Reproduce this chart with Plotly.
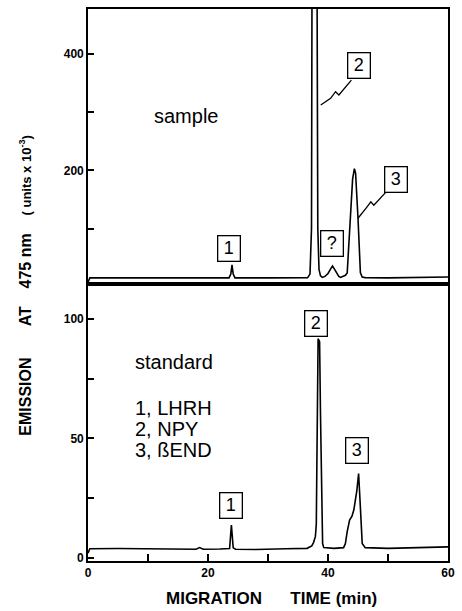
import plotly.graph_objects as go

# ---------------- data ----------------
std_time = [0, 0.3, 5, 10, 15, 18.0, 18.6, 19.2, 22, 23.6, 23.9, 24.2, 24.6, 28, 33, 36.5,
            37.3, 37.6, 37.9, 38.05, 38.35, 38.6, 38.75, 38.9, 39.1, 39.3, 41, 42.6, 42.9,
            43.2, 43.6, 44.0, 44.3, 44.8, 45.1, 45.4, 45.7, 46.2, 50, 55, 60]
std_signal = [2.0, 3.8, 3.9, 3.8, 3.6, 3.6, 4.3, 3.6, 3.7, 3.9, 13.7, 4.2, 3.6, 3.5, 3.8, 4.0,
              5.0, 6.5, 9.0, 14, 91.7, 90.5, 60, 30, 6, 4.3, 4.0, 4.3, 6,
              11, 15.8, 17.5, 20, 28, 35.3, 21, 6, 4.3, 4.0, 4.3, 4.6]

smp_time = [0, 0.3, 5, 10, 15, 20, 23.5, 23.8, 24.0, 24.2, 24.5, 30, 36.6, 37.0, 37.25,
            37.35, 38.15, 38.3, 38.5, 38.75, 39.06, 39.5, 40.0, 40.4, 40.75, 41.1, 41.5,
            41.8, 42.1, 42.5, 42.9, 43.2, 43.7, 44.1, 44.4, 44.6, 45.0, 45.4, 45.7, 46.2,
            50, 55, 60]
smp_signal = [8, 15.5, 15.5, 15.5, 15.5, 15.5, 15.5, 22, 38, 22, 15.5, 15.5, 16, 22, 100,
              600, 600, 100, 30, 19, 16.3, 18, 23, 30, 36, 30, 22,
              18, 16.3, 18, 20, 24, 118, 185, 203, 195, 118, 24, 17, 16,
              15.5, 16, 17]

x_ticks = [0, 20, 40, 60]
x_minor = [10, 30, 50]
std_ticks = [0, 50, 100]
std_minor = [25, 75]
smp_ticks = [200, 400]
smp_minor = [100, 300]

peak_labels = ["1", "2", "?", "3"]
legend_lines = ["1, LHRH", "2, NPY", "3, ßEND"]

# ---------------- layout helpers ----------------
W, H = 462, 611
L, R, T, B = 88, 452, 7, 561


def px(xp):
    return (xp - L) / (R - L)


def py(yp):
    return (B - yp) / (B - T)


split = py(283)
FONT = "Liberation Sans, Arial, sans-serif"

fig = go.Figure()
fig.add_trace(go.Scatter(x=std_time, y=std_signal, mode="lines",
                         line=dict(color="black", width=1.6), xaxis="x", yaxis="y",
                         hoverinfo="skip", showlegend=False))
fig.add_trace(go.Scatter(x=smp_time, y=smp_signal, mode="lines",
                         line=dict(color="black", width=1.6), xaxis="x2", yaxis="y2",
                         hoverinfo="skip", showlegend=False))

axis_common = dict(showline=True, linecolor="black", linewidth=1.7, mirror=True,
                   showgrid=False, zeroline=False)
tickfont = dict(family=FONT, size=12, color="black", weight="bold")

fig.update_layout(
    width=W, height=H,
    margin=dict(l=L, r=W - R, t=T, b=H - B),
    paper_bgcolor="white", plot_bgcolor="white",
    showlegend=False,
    xaxis=dict(domain=[0, 1], range=[0, 60], anchor="y", tickmode="array",
               tickvals=x_ticks, ticktext=[str(v) for v in x_ticks],
               ticks="inside", ticklen=7, tickwidth=1.5, tickcolor="black",
               minor=dict(tickvals=x_minor, ticks="inside", ticklen=7, tickwidth=1.5,
                          tickcolor="black"),
               tickfont=tickfont, **axis_common),
    yaxis=dict(domain=[0, split], range=[-1.3, 114.6], anchor="x", tickmode="array",
               tickvals=std_ticks, ticktext=[str(v) for v in std_ticks],
               ticks="inside", ticklen=6, tickwidth=1.5, tickcolor="black",
               minor=dict(tickvals=std_minor, ticks="inside", ticklen=6, tickwidth=1.5,
                          tickcolor="black"),
               tickfont=tickfont, **axis_common),
    xaxis2=dict(domain=[0, 1], range=[0, 60], anchor="y2", showticklabels=False,
                ticks="", **axis_common),
    yaxis2=dict(domain=[split, 1], range=[5, 477], anchor="x2", tickmode="array",
                tickvals=smp_ticks, ticktext=[str(v) for v in smp_ticks],
                ticks="inside", ticklen=6, tickwidth=1.5, tickcolor="black",
                minor=dict(tickvals=smp_minor, ticks="inside", ticklen=6, tickwidth=1.5,
                           tickcolor="black"),
                tickfont=tickfont, **axis_common),
)

# boxed peak labels (pixel centres)
boxes = [
    (peak_labels[0], 231, 247.5),
    (peak_labels[1], 362.5, 64),
    (peak_labels[2], 335, 242),
    (peak_labels[3], 399.5, 178),
    (peak_labels[0], 232.5, 505),
    (peak_labels[1], 319, 323),
    (peak_labels[3], 360, 450),
]
for txt, bx, by in boxes:
    fig.add_annotation(x=px(bx), y=py(by), xref="paper", yref="paper", text=txt,
                       showarrow=False, font=dict(family=FONT, size=18, color="black"),
                       bordercolor="black", borderwidth=1.3, borderpad=2,
                       width=17, height=20, align="center", valign="middle",
                       xanchor="center", yanchor="middle")

# zig-zag leader lines
leaders = [
    [(354.3, 78.3), (341.7, 93.3), (338.3, 90), (333.3, 96.7), (323.3, 103.3)],
    [(389, 191), (377, 204), (374, 200.5), (369, 207), (361, 217)],
]
for pts in leaders:
    path = "M " + " L ".join(f"{px(a):.5f},{py(b):.5f}" for a, b in pts)
    fig.add_shape(type="path", path=path, xref="paper", yref="paper",
                  line=dict(color="black", width=1.3))

# panel texts
fig.add_annotation(x=px(187), y=py(114), xref="paper", yref="paper", text="sample",
                   showarrow=False, font=dict(family=FONT, size=20, color="black"),
                   xanchor="center", yanchor="middle")
fig.add_annotation(x=px(133), y=py(361), xref="paper", yref="paper", text="standard",
                   showarrow=False, font=dict(family=FONT, size=20, color="black"),
                   xanchor="left", yanchor="middle")
for line, ly in zip(legend_lines, [407, 428.5, 450]):
    fig.add_annotation(x=px(133), y=py(ly), xref="paper", yref="paper", text=line,
                       showarrow=False, font=dict(family=FONT, size=20, color="black"),
                       xanchor="left", yanchor="middle")

# axis titles
nb = "\u00a0"
ytitle = ("<b>EMISSION" + nb * 7 + "AT" + nb * 4 + "475 nm</b>" + nb * 4 +
          "<b><span style='font-size:13px'>(" + nb + "units x 10<sup>-3</sup>)</span></b>")
fig.add_annotation(x=px(24), y=py(284), xref="paper", yref="paper", text=ytitle,
                   textangle=-90, showarrow=False,
                   font=dict(family=FONT, size=16, color="black"),
                   xanchor="center", yanchor="middle")
xtitle = "<b>MIGRATION" + nb * 6 + "TIME (min)</b>"
fig.add_annotation(x=px(273.5), y=py(599), xref="paper", yref="paper", text=xtitle,
                   showarrow=False, font=dict(family=FONT, size=17, color="black"),
                   xanchor="center", yanchor="middle")

fig.write_html("out.html", config={"displayModeBar": False},
               post_script="document.body.style.margin='0';document.body.style.padding='0';")
